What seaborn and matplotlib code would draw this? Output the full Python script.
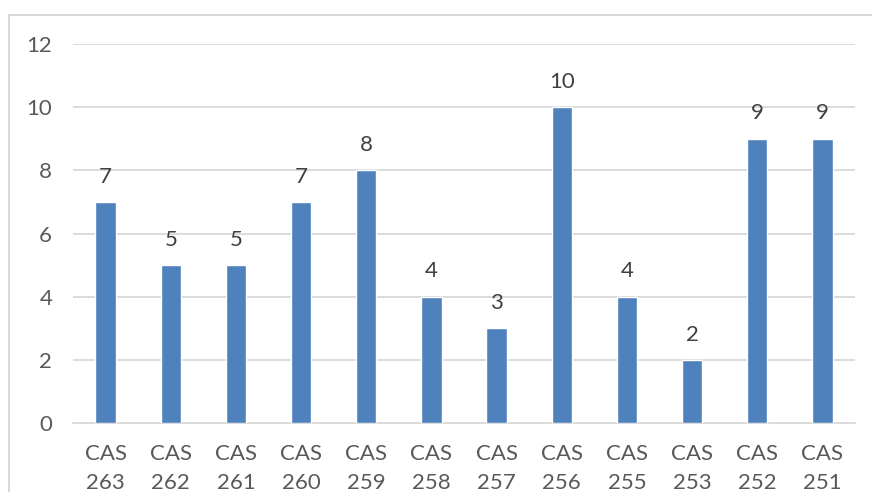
import matplotlib
matplotlib.use("Agg")
import matplotlib.pyplot as plt
import seaborn as sns
import pandas as pd
from matplotlib.patches import Rectangle

categories = ["CAS\n263", "CAS\n262", "CAS\n261", "CAS\n260", "CAS\n259", "CAS\n258",
              "CAS\n257", "CAS\n256", "CAS\n255", "CAS\n253", "CAS\n252", "CAS\n251"]
counts = [7, 5, 5, 7, 8, 4, 3, 10, 4, 2, 9, 9]
y_ticks = [0, 2, 4, 6, 8, 10, 12]

df = pd.DataFrame({"category": categories, "count": counts})

sns.set_theme(style="white")
plt.rcParams["font.family"] = ["Lato", "DejaVu Sans"]

W, H = 872, 492
fig = plt.figure(figsize=(W / 100, H / 100), dpi=100)
ax = fig.add_axes([73 / W, 1 - 423 / H, (855 - 73) / W, (423 - 44) / H])

grid_c = "#d9d9d9"
text_c = "#595959"
fs = 16

sns.barplot(data=df, x="category", y="count", order=categories, color="#4f81bd",
            saturation=1, width=0.31, ax=ax, zorder=3)

ax.set_ylim(0, 12)
ax.set_xlim(-0.5, len(categories) - 0.5)
ax.set_yticks(y_ticks)
ax.yaxis.grid(True, color=grid_c, linewidth=1.3, zorder=0)
ax.set_axisbelow(True)
for side in ["top", "right", "left"]:
    ax.spines[side].set_visible(False)
ax.spines["bottom"].set_color(grid_c)
ax.spines["bottom"].set_linewidth(1.3)

ax.set_xlabel("")
ax.set_ylabel("")

# category boundary ticks below the axis
ax.set_xticks([i - 0.5 for i in range(len(categories) + 1)], minor=True)
ax.tick_params(axis="x", which="minor", length=7, width=1.3, color=grid_c, direction="out")
ax.tick_params(axis="x", which="major", length=0, pad=15, labelsize=fs, labelcolor=text_c)
ax.tick_params(axis="y", length=0, pad=15, labelsize=fs, labelcolor=text_c)
for lbl in ax.get_xticklabels():
    lbl.set_linespacing(1.55)

for i, v in enumerate(counts):
    ax.annotate(str(v), (i, v), xytext=(0, 11), textcoords="offset points",
                ha="center", va="bottom", fontsize=fs, color="#404040")

# chart frame
fig.patches.append(Rectangle((9 / W, -0.1), 1.2, 1 - 15 / H + 0.1, transform=fig.transFigure,
                             fill=False, edgecolor=grid_c, linewidth=1.5))

fig.savefig("out.png", dpi=100, facecolor="white")
